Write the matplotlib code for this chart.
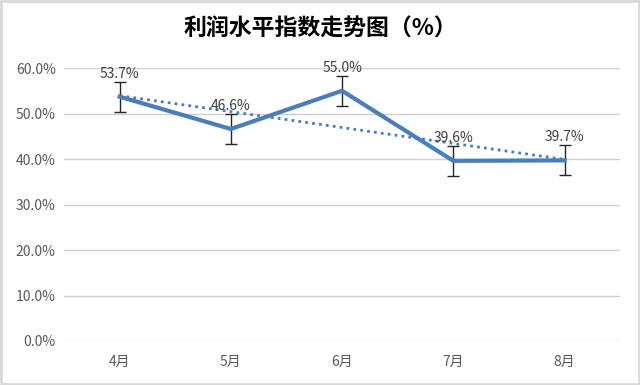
import numpy as np
import matplotlib
matplotlib.use("Agg")
import matplotlib.pyplot as plt
from matplotlib.patches import Rectangle

plt.rcParams['font.family'] = ['Noto Sans CJK SC', 'DejaVu Sans']

months = ['4月', '5月', '6月', '7月', '8月']
values = [53.7, 46.6, 55.0, 39.6, 39.7]
errors = [3.3, 3.3, 3.3, 3.3, 3.3]
yticks = [0, 10, 20, 30, 40, 50, 60]

blue = '#4a7ebb'
x = np.arange(len(months))

fig = plt.figure(figsize=(6.4, 3.85), dpi=100)
ax = fig.add_axes([0.1, 0.1143, 0.869, 0.709])

# 网格线
for t in yticks:
    ax.axhline(t, color='#d0d0d0', lw=1.0, zorder=0)

ax.errorbar(x, values, yerr=errors, fmt='none', ecolor='#262626',
            elinewidth=1.0, capsize=4, capthick=1.0, zorder=3)
ax.plot(x, values, color=blue, lw=3, zorder=4, solid_joinstyle='miter')

# 线性趋势线
k, b = np.polyfit(x, values, 1)
ax.plot(x, k * x + b, color=blue, lw=2, ls=(0, (1, 1.5)), zorder=2)

for xi, v in zip(x, values):
    ax.annotate(f'{v:.1f}%', (xi, v), xytext=(0, 16.5), textcoords='offset points',
                ha='center', va='center', fontsize=10, color='#404040', zorder=5)

ax.set_xlim(-0.5, len(months) - 0.5)
ax.set_ylim(0, 60)
ax.set_xticks(x)
ax.set_xticklabels(months)
ax.set_yticks(yticks)
ax.set_yticklabels([f'{t:.1f}%' for t in yticks])
ax.tick_params(length=0, labelsize=10, colors='#595959', pad=6)
ax.tick_params(axis='x', pad=10)
for s in ax.spines.values():
    s.set_visible(False)

fig.text(0.5, 0.925, '利润水平指数走势图（%）', ha='center', va='center',
         fontsize=16.5, fontweight='bold', color='#000000')

fig.patches.append(Rectangle((0.002, 0.003), 0.996, 0.994, transform=fig.transFigure,
                             fill=False, edgecolor='#d9d9d9', lw=2))

fig.savefig('out.png', dpi=100)
